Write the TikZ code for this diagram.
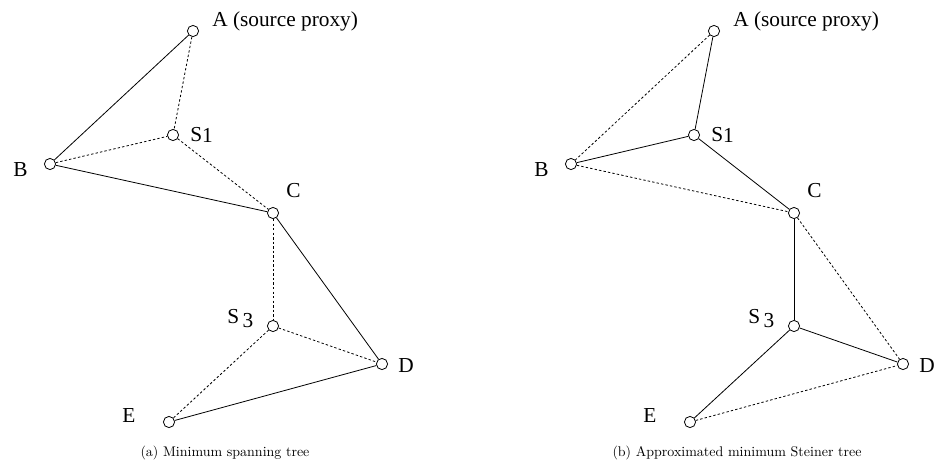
\documentclass[tikz,border=0pt]{standalone}
\usepackage{fontspec}
\newfontfamily\vlabelfont{Liberation Serif}
\usetikzlibrary{positioning}

\tikzset{
    vertex/.style={circle, draw, inner sep=0pt, minimum size=8.4pt, line width=0.6pt},
    treeedge/.style={line width=0.6pt},
    otheredge/.style={line width=0.6pt, dash pattern=on 1.8pt off 1.6pt},
    vlabel/.style={font=\vlabelfont\fontsize{16}{18}\selectfont, inner sep=0pt},
    caption/.style={font=\fontsize{10.5}{12}\selectfont, inner sep=0pt},
}

\begin{document}
\begin{tikzpicture}[x=0.75pt, y=-0.75pt]
    \useasboundingbox (0,0) rectangle (941,469);

    % Hai hình: (a) cây khung nhỏ nhất, (b) cây Steiner xấp xỉ
    \foreach \pre/\dx in {a/0, b/521} {
        \begin{scope}[xshift=\dx*0.75pt, name prefix=\pre-]
            % Các đỉnh
            \node[vertex] (A)  at (193,31)  {};
            \node[vertex] (S1) at (173,135) {};
            \node[vertex] (B)  at (50,164)  {};
            \node[vertex] (C)  at (273,213) {};
            \node[vertex] (S3) at (273,326) {};
            \node[vertex] (D)  at (382,364) {};
            \node[vertex] (E)  at (169,422) {};
            % Nhãn của các đỉnh
            \node[vlabel, anchor=base west] (lA)  at (212,26)  {A (source proxy)};
            \node[vlabel, anchor=base west] (lS1) at (190,141) {S\raisebox{-1.2pt}{1}};
            \node[vlabel, anchor=base west] (lB)  at (13,176)  {B};
            \node[vlabel, anchor=base west] (lC)  at (286,197) {C};
            \node[vlabel, anchor=base west] (lS3) at (227,323) {S\,\raisebox{-3.5pt}{3}};
            \node[vlabel, anchor=base west] (lD)  at (398,372) {D};
            \node[vlabel, anchor=base west] (lE)  at (122,422) {E};
        \end{scope}
    }

    % (a) Minimum spanning tree
    \draw[treeedge]  (a-A) -- (a-B);
    \draw[otheredge] (a-A) -- (a-S1);
    \draw[otheredge] (a-B) -- (a-S1);
    \draw[treeedge]  (a-B) -- (a-C);
    \draw[otheredge] (a-S1) -- (a-C);
    \draw[otheredge] (a-C) -- (a-S3);
    \draw[treeedge]  (a-C) -- (a-D);
    \draw[otheredge] (a-S3) -- (a-D);
    \draw[otheredge] (a-S3) -- (a-E);
    \draw[treeedge]  (a-E) -- (a-D);

    % (b) Approximated minimum Steiner tree
    \draw[otheredge] (b-A) -- (b-B);
    \draw[treeedge]  (b-A) -- (b-S1);
    \draw[treeedge]  (b-B) -- (b-S1);
    \draw[otheredge] (b-B) -- (b-C);
    \draw[treeedge]  (b-S1) -- (b-C);
    \draw[treeedge]  (b-C) -- (b-S3);
    \draw[otheredge] (b-C) -- (b-D);
    \draw[treeedge]  (b-S3) -- (b-D);
    \draw[treeedge]  (b-S3) -- (b-E);
    \draw[otheredge] (b-E) -- (b-D);

    % Chú thích
    \node[caption, anchor=base] (capa) at (225,456) {(a) Minimum spanning tree};
    \node[caption, anchor=base] (capb) at (737,456) {(b) Approximated minimum Steiner tree};
\end{tikzpicture}
\end{document}
